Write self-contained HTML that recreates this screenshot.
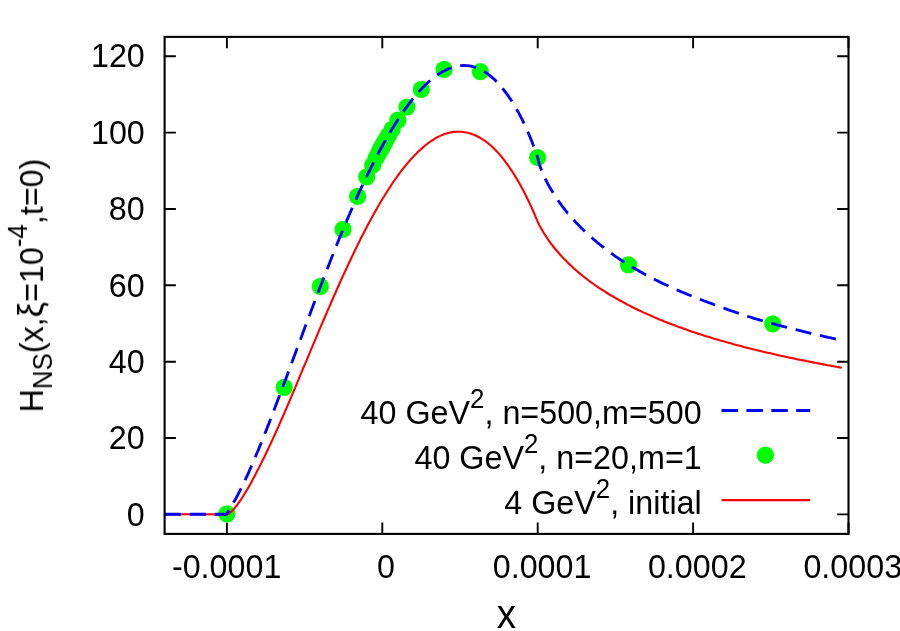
<!DOCTYPE html>
<html><head><meta charset="utf-8"><title>plot</title>
<style>
html,body{margin:0;padding:0;background:#fff;overflow:hidden;}
svg{display:block;}
text{font-family:"Liberation Sans",sans-serif;font-size:33.0px;fill:#000;}
#txt{opacity:0.999}
</style></head><body>
<svg width="900" height="631" viewBox="0 0 900 631">
<rect width="900" height="631" fill="#fff"/>
<path d="M164.6 514.4h11.3 M848.5 514.4h-11.3 M164.6 438.0h11.3 M848.5 438.0h-11.3 M164.6 361.7h11.3 M848.5 361.7h-11.3 M164.6 285.3h11.3 M848.5 285.3h-11.3 M164.6 209.0h11.3 M848.5 209.0h-11.3 M164.6 132.6h11.3 M848.5 132.6h-11.3 M164.6 56.2h11.3 M848.5 56.2h-11.3 M226.9 533.9v-11.3 M226.9 36.9v11.3 M382.3 533.9v-11.3 M382.3 36.9v11.3 M537.7 533.9v-11.3 M537.7 36.9v11.3 M693.1 533.9v-11.3 M693.1 36.9v11.3 M848.5 533.9v-11.3 M848.5 36.9v11.3" stroke="#000" stroke-width="1.9" fill="none"/>
<g fill="#00ff00">
<circle cx="537.6" cy="157.5" r="8.6"/>
<circle cx="226.9" cy="513.8" r="8.6"/>
<circle cx="480.4" cy="71.6" r="8.6"/>
<circle cx="284.2" cy="387.3" r="8.6"/>
<circle cx="444.1" cy="69.4" r="8.6"/>
<circle cx="320.3" cy="286.4" r="8.6"/>
<circle cx="421.3" cy="89.4" r="8.6"/>
<circle cx="343.0" cy="229.3" r="8.6"/>
<circle cx="406.9" cy="107.0" r="8.6"/>
<circle cx="357.6" cy="196.3" r="8.6"/>
<circle cx="397.8" cy="120.2" r="8.6"/>
<circle cx="366.7" cy="176.8" r="8.6"/>
<circle cx="392.1" cy="129.3" r="8.6"/>
<circle cx="372.7" cy="165.2" r="8.6"/>
<circle cx="388.5" cy="135.4" r="8.6"/>
<circle cx="376.1" cy="158.0" r="8.6"/>
<circle cx="386.2" cy="139.4" r="8.6"/>
<circle cx="378.4" cy="153.6" r="8.6"/>
<circle cx="384.8" cy="141.9" r="8.6"/>
<circle cx="379.8" cy="150.9" r="8.6"/>
<circle cx="383.9" cy="143.5" r="8.6"/>
<circle cx="380.7" cy="149.2" r="8.6"/>
<circle cx="383.3" cy="144.6" r="8.6"/>
<circle cx="381.3" cy="148.2" r="8.6"/>
<circle cx="382.9" cy="145.2" r="8.6"/>
<circle cx="381.7" cy="147.5" r="8.6"/>
<circle cx="382.7" cy="145.6" r="8.6"/>
<circle cx="381.9" cy="147.1" r="8.6"/>
<circle cx="628.5" cy="264.9" r="8.6"/>
<circle cx="772.7" cy="323.8" r="8.6"/>
<circle cx="765.4" cy="455.2" r="8.6"/>
</g>
<path d="M164.6 514.2 L226.9 514.4 L228.5 513.8 L230.0 512.7 L231.6 511.3 L233.1 509.8 L234.7 508.0 L236.2 506.1 L237.8 504.1 L239.3 501.9 L240.9 499.7 L242.4 497.3 L244.0 494.8 L245.5 492.3 L247.1 489.7 L248.7 487.0 L250.2 484.2 L251.8 481.4 L253.3 478.5 L254.9 475.6 L256.4 472.6 L258.0 469.6 L259.5 466.6 L261.1 463.5 L262.6 460.3 L264.2 457.2 L265.8 453.9 L267.3 450.7 L268.9 447.4 L270.4 444.1 L272.0 440.8 L273.5 437.4 L275.1 434.0 L276.6 430.5 L278.2 427.1 L279.7 423.6 L281.3 420.0 L282.8 416.5 L284.4 412.9 L286.0 409.3 L287.5 405.7 L289.1 402.0 L290.6 398.4 L292.2 394.7 L293.7 391.0 L295.3 387.3 L296.8 383.6 L298.4 379.9 L299.9 376.1 L301.5 372.4 L303.0 368.7 L304.6 365.0 L306.2 361.3 L307.7 357.6 L309.3 353.9 L310.8 350.1 L312.4 346.4 L313.9 342.8 L315.5 339.1 L317.0 335.4 L318.6 331.7 L320.1 328.1 L321.7 324.4 L323.2 320.8 L324.8 317.2 L326.4 313.5 L327.9 309.9 L329.5 306.4 L331.0 302.8 L332.6 299.2 L334.1 295.7 L335.7 292.2 L337.2 288.7 L338.8 285.2 L340.3 281.8 L341.9 278.3 L343.4 274.9 L345.0 271.5 L346.6 268.2 L348.1 264.8 L349.7 261.5 L351.2 258.2 L352.8 255.0 L354.3 251.7 L355.9 248.5 L357.4 245.4 L359.0 242.2 L360.5 239.1 L362.1 236.0 L363.7 233.0 L365.2 230.0 L366.8 227.0 L368.3 224.1 L369.9 221.2 L371.4 218.3 L373.0 215.4 L374.5 212.6 L376.1 209.9 L377.6 207.2 L379.2 204.5 L380.7 201.8 L382.3 199.2 L383.9 196.7 L385.4 194.2 L387.0 191.7 L388.5 189.3 L390.1 186.9 L391.6 184.5 L393.2 182.2 L394.7 180.0 L396.3 177.8 L397.8 175.6 L399.4 173.5 L400.9 171.4 L402.5 169.4 L404.1 167.4 L405.6 165.5 L407.2 163.6 L408.7 161.8 L410.3 160.0 L411.8 158.3 L413.4 156.6 L414.9 155.0 L416.5 153.4 L418.0 151.8 L419.6 150.4 L421.2 148.9 L422.7 147.6 L424.3 146.2 L425.8 145.0 L427.4 143.8 L428.9 142.6 L430.5 141.5 L432.0 140.5 L433.6 139.5 L435.1 138.5 L436.7 137.6 L438.2 136.8 L439.8 136.1 L441.4 135.4 L442.9 134.7 L444.5 134.1 L446.0 133.6 L447.6 133.2 L449.1 132.8 L450.7 132.4 L452.2 132.1 L453.8 131.9 L455.3 131.8 L456.9 131.7 L458.4 131.7 L460.0 131.7 L461.6 131.8 L463.1 132.0 L464.7 132.2 L466.2 132.5 L467.8 132.8 L469.3 133.2 L470.9 133.7 L472.4 134.2 L474.0 134.8 L475.5 135.5 L477.1 136.2 L478.6 137.0 L480.2 137.9 L481.8 138.8 L483.3 139.8 L484.9 140.8 L486.4 142.0 L488.0 143.2 L489.5 144.5 L491.1 145.8 L492.6 147.2 L494.2 148.7 L495.7 150.3 L497.3 151.9 L498.9 153.6 L500.4 155.4 L502.0 157.3 L503.5 159.2 L505.1 161.3 L506.6 163.4 L508.2 165.5 L509.7 167.8 L511.3 170.1 L512.8 172.5 L514.4 174.9 L515.9 177.5 L517.5 180.1 L519.1 182.8 L520.6 185.6 L522.2 188.4 L523.7 191.3 L525.3 194.4 L526.8 197.5 L528.4 200.7 L529.9 203.9 L531.5 207.3 L533.0 210.8 L534.6 214.3 L536.1 218.0 L537.7 221.7 L539.7 225.9 L541.8 229.6 L543.8 233.0 L545.9 236.2 L547.9 239.3 L549.9 242.1 L552.0 244.9 L554.0 247.5 L556.1 250.0 L558.1 252.3 L560.2 254.7 L562.2 256.9 L564.2 259.0 L566.3 261.1 L568.3 263.2 L570.4 265.1 L572.4 267.0 L574.4 268.9 L576.5 270.7 L578.5 272.4 L580.6 274.1 L582.6 275.8 L584.6 277.4 L586.7 279.0 L588.7 280.5 L590.8 282.1 L592.8 283.5 L594.8 285.0 L596.9 286.4 L598.9 287.8 L601.0 289.1 L603.0 290.4 L605.1 291.7 L607.1 293.0 L609.1 294.3 L611.2 295.5 L613.2 296.7 L615.3 297.9 L617.3 299.0 L619.3 300.2 L621.4 301.3 L623.4 302.4 L625.5 303.5 L627.5 304.6 L629.5 305.6 L631.6 306.7 L633.6 307.7 L635.7 308.7 L637.7 309.7 L639.8 310.7 L641.8 311.6 L643.8 312.6 L645.9 313.5 L647.9 314.4 L650.0 315.3 L652.0 316.2 L654.0 317.1 L656.1 318.0 L658.1 318.9 L660.2 319.7 L662.2 320.5 L664.2 321.4 L666.3 322.2 L668.3 323.0 L670.4 323.8 L672.4 324.6 L674.5 325.3 L676.5 326.1 L678.5 326.9 L680.6 327.6 L682.6 328.3 L684.7 329.1 L686.7 329.8 L688.7 330.5 L690.8 331.2 L692.8 331.9 L694.9 332.6 L696.9 333.2 L698.9 333.9 L701.0 334.6 L703.0 335.2 L705.1 335.9 L707.1 336.5 L709.1 337.1 L711.2 337.7 L713.2 338.4 L715.3 339.0 L717.3 339.6 L719.4 340.2 L721.4 340.8 L723.4 341.3 L725.5 341.9 L727.5 342.5 L729.6 343.1 L731.6 343.6 L733.6 344.2 L735.7 344.7 L737.7 345.3 L739.8 345.8 L741.8 346.3 L743.8 346.9 L745.9 347.4 L747.9 347.9 L750.0 348.4 L752.0 348.9 L754.1 349.5 L756.1 350.0 L758.1 350.5 L760.2 350.9 L762.2 351.4 L764.3 351.9 L766.3 352.4 L768.3 352.9 L770.4 353.3 L772.4 353.8 L774.5 354.3 L776.5 354.7 L778.5 355.2 L780.6 355.7 L782.6 356.1 L784.7 356.5 L786.7 357.0 L788.8 357.4 L790.8 357.9 L792.8 358.3 L794.9 358.7 L796.9 359.2 L799.0 359.6 L801.0 360.0 L803.0 360.4 L805.1 360.8 L807.1 361.2 L809.2 361.6 L811.2 362.0 L813.2 362.4 L815.3 362.8 L817.3 363.2 L819.4 363.6 L821.4 364.0 L823.4 364.4 L825.5 364.8 L827.5 365.2 L829.6 365.5 L831.6 365.9 L833.7 366.3 L835.7 366.6 L837.7 367.0 L839.8 367.4 L841.8 367.7" fill="none" stroke="#ff0000" stroke-width="2.1" stroke-linejoin="round"/>
<path d="M721.5 500.15H810" stroke="#ff0000" stroke-width="2.1"/>
<path d="M164.6 514.2 L166.2 514.2 L167.8 514.2 L169.4 514.2 L171.0 514.2 L172.6 514.2 L174.2 514.2 L175.8 514.2 L177.4 514.2 L179.0 514.2 L180.6 514.2 L180.8 514.2 M189.8 514.2 L190.2 514.2 L191.8 514.2 L193.4 514.2 L195.0 514.2 L196.5 514.2 L198.1 514.2 L199.7 514.2 L201.3 514.2 L202.9 514.2 L204.5 514.2 L206.0 514.2 M214.9 514.2 L215.7 514.2 L217.3 514.2 L218.9 514.2 L220.5 514.2 L222.1 514.2 L223.7 514.2 L225.3 514.2 L226.9 514.0 L228.5 510.7 L228.8 510.2 M233.5 502.6 L234.7 500.6 L236.2 497.8 L237.8 494.9 L239.3 491.9 L240.9 488.9 L241.1 488.3 M245.1 480.2 L245.5 479.2 L247.1 475.8 L248.7 472.4 L250.2 468.9 L251.7 465.5 M255.3 457.2 L256.4 454.4 L258.0 450.7 L259.5 446.9 L261.1 443.1 L261.4 442.2 M264.8 433.8 L265.8 431.4 L267.3 427.4 L268.9 423.5 L270.4 419.4 L270.7 418.8 M273.9 410.4 L275.1 407.3 L276.6 403.2 L278.2 399.1 L279.7 395.2 M282.8 386.8 L282.8 386.7 L284.4 382.6 L286.0 378.4 L287.5 374.2 L288.5 371.6 M291.6 363.2 L292.2 361.7 L293.7 357.6 L295.3 353.4 L296.8 349.2 L297.3 348.1 M300.4 339.7 L301.5 336.7 L303.0 332.5 L304.6 328.3 L306.0 324.5 M309.2 316.2 L309.3 315.9 L310.8 311.8 L312.4 307.6 L313.9 303.5 L314.9 301.0 M318.1 292.7 L318.6 291.3 L320.1 287.2 L321.7 283.2 L323.2 279.1 L323.9 277.5 M327.1 269.2 L327.9 267.1 L329.5 263.2 L331.0 259.2 L332.6 255.3 L333.0 254.1 M336.3 245.9 L337.2 243.7 L338.8 239.8 L340.3 236.0 L341.9 232.2 L342.5 230.9 M345.9 222.6 L346.6 221.1 L348.1 217.4 L349.7 213.8 L351.2 210.2 L352.3 207.7 M355.9 199.6 L357.4 196.1 L359.0 192.7 L360.5 189.4 L362.1 186.0 L362.6 184.8 M366.4 176.9 L366.8 176.2 L368.3 173.0 L369.9 169.9 L371.4 166.7 L373.0 163.7 L373.6 162.4 M377.7 154.5 L379.2 151.7 L380.7 148.8 L382.3 146.0 L383.9 143.1 L385.4 140.4 L385.4 140.3 M389.9 132.7 L390.1 132.3 L391.6 129.7 L393.2 127.2 L394.7 124.7 L396.3 122.2 L397.8 119.8 L398.4 118.9 M403.4 111.6 L404.1 110.6 L405.6 108.4 L407.2 106.3 L408.7 104.2 L410.3 102.1 L411.8 100.1 L413.0 98.6 M418.7 91.9 L419.6 90.9 L421.2 89.2 L422.7 87.6 L424.3 86.0 L425.8 84.5 L427.4 83.0 L428.9 81.6 L430.2 80.5 M437.2 75.1 L438.2 74.3 L439.8 73.3 L441.4 72.4 L442.9 71.5 L444.5 70.7 L446.0 69.9 L447.6 69.2 L449.1 68.5 L450.7 68.0 L451.5 67.7 M460.1 65.7 L461.6 65.6 L463.1 65.5 L464.7 65.5 L466.2 65.6 L467.8 65.7 L469.3 65.9 L470.9 66.2 L472.4 66.5 L474.0 67.0 L475.5 67.5 L476.1 67.7 M484.0 71.5 L484.9 72.0 L486.4 73.0 L488.0 74.1 L489.5 75.3 L491.1 76.6 L492.6 77.9 L494.2 79.3 L495.7 80.8 L496.6 81.7 M502.5 88.3 L503.5 89.6 L505.1 91.6 L506.6 93.6 L508.2 95.8 L509.7 98.1 L511.3 100.4 L511.9 101.5 M516.6 109.1 L517.5 110.8 L519.1 113.6 L520.6 116.6 L522.2 119.6 L523.7 122.8 L524.0 123.5 M527.7 131.6 L528.4 133.1 L529.9 136.8 L531.5 140.6 L533.0 144.5 L533.8 146.6 M536.8 155.0 L537.7 157.7 L539.7 165.6 L541.6 170.5 M545.2 178.6 L545.7 179.7 L547.7 183.6 L549.7 187.2 L551.7 190.6 L553.1 192.8 M558.0 200.2 L559.7 202.7 L561.7 205.5 L563.7 208.1 L565.7 210.6 L567.7 213.1 L567.8 213.1 M573.6 219.9 L573.7 220.0 L575.7 222.2 L577.7 224.3 L579.7 226.3 L581.7 228.4 L583.7 230.3 L584.9 231.4 M591.5 237.5 L591.8 237.7 L593.8 239.5 L595.8 241.2 L597.8 242.9 L599.8 244.5 L601.8 246.1 L603.8 247.7 L603.9 247.8 M611.0 253.2 L611.8 253.7 L613.8 255.2 L615.8 256.6 L617.8 257.9 L619.8 259.3 L621.8 260.6 L623.8 261.9 L624.4 262.3 M632.0 266.9 L633.8 268.0 L635.8 269.2 L637.8 270.3 L639.8 271.5 L641.8 272.6 L643.8 273.7 L645.8 274.8 L646.1 274.9 M653.9 279.0 L655.8 280.0 L657.8 280.9 L659.8 281.9 L661.8 282.9 L663.8 283.9 L665.8 284.8 L667.8 285.7 L668.5 286.1 M676.7 289.7 L677.8 290.2 L679.8 291.1 L681.8 292.0 L683.8 292.8 L685.8 293.6 L687.8 294.5 L689.8 295.3 L691.6 296.0 M699.9 299.3 L701.9 300.0 L703.9 300.8 L705.9 301.5 L707.9 302.3 L709.9 303.0 L711.9 303.7 L713.9 304.5 L715.1 304.9 M723.5 308.0 L723.9 308.1 L725.9 308.9 L727.9 309.6 L729.9 310.3 L731.9 311.0 L733.9 311.7 L735.9 312.4 L737.9 313.1 L738.8 313.4 M747.3 316.2 L747.9 316.4 L749.9 317.0 L751.9 317.6 L753.9 318.3 L755.9 318.9 L757.9 319.5 L759.9 320.0 L761.9 320.6 L762.8 320.9 M771.3 323.3 L771.9 323.4 L773.9 324.0 L775.9 324.5 L777.9 325.1 L779.9 325.6 L781.9 326.1 L783.9 326.7 L785.9 327.2 L787.0 327.5 M795.6 329.6 L796.0 329.7 L798.0 330.2 L800.0 330.7 L802.0 331.2 L804.0 331.7 L806.0 332.2 L808.0 332.7 L810.0 333.1 L811.3 333.5 M820.0 335.5 L820.0 335.5 L822.0 335.9 L824.0 336.4 L826.0 336.8 L828.0 337.3 L830.0 337.7 L832.0 338.2 L834.0 338.6 L835.8 339.0" fill="none" stroke="#0000ff" stroke-width="2.85" stroke-linejoin="round"/>
<path d="M721.5 410.4H810.2" stroke="#0000ff" stroke-width="3" stroke-dasharray="16.5 8.4"/>
<rect x="164.6" y="36.9" width="683.9" height="497.0" fill="none" stroke="#000" stroke-width="2.1"/>
<g id="txt">
<text transform="translate(144.8 525.6) scale(0.9788 1.0212)" text-anchor="end">0</text>
<text transform="translate(144.8 449.2) scale(0.9788 1.0212)" text-anchor="end">20</text>
<text transform="translate(144.8 372.9) scale(0.9788 1.0212)" text-anchor="end">40</text>
<text transform="translate(144.8 296.5) scale(0.9788 1.0212)" text-anchor="end">60</text>
<text transform="translate(144.8 220.2) scale(0.9788 1.0212)" text-anchor="end">80</text>
<text transform="translate(144.8 143.8) scale(0.9788 1.0212)" text-anchor="end">100</text>
<text transform="translate(144.8 67.4) scale(0.9788 1.0212)" text-anchor="end">120</text>
<text transform="translate(171.9 578.0) scale(0.9788 1.0212)" text-anchor="start">-0.0001</text>
<text transform="translate(377.1 578.0) scale(0.9788 1.0212)" text-anchor="start">0</text>
<text transform="translate(492.7 578.0) scale(0.9788 1.0212)" text-anchor="start">0.0001</text>
<text transform="translate(647.9 578.0) scale(0.9788 1.0212)" text-anchor="start">0.0002</text>
<text transform="translate(803.4 578.0) scale(0.9788 1.0212)" text-anchor="start">0.0003</text>
<text transform="translate(701.7 424.0) scale(0.9788 1.0212)" text-anchor="end">40 GeV<tspan dy="-15.2" style="font-size:26.4px">2</tspan><tspan dy="15.2">, n=500,m=500</tspan></text>
<text transform="translate(701.7 468.8) scale(0.9788 1.0212)" text-anchor="end">40 GeV<tspan dy="-15.2" style="font-size:26.4px">2</tspan><tspan dy="15.2">, n=20,m=1</tspan></text>
<text transform="translate(701.7 513.6) scale(0.9788 1.0212)" text-anchor="end">4 GeV<tspan dy="-15.2" style="font-size:26.4px">2</tspan><tspan dy="15.2">, initial</tspan></text>
<text transform="translate(506.5 627.8) scale(0.9788 1.0212)" text-anchor="middle" style="font-size:39.5px">x</text>
<text transform="translate(42.8 412.4) rotate(-90) scale(0.9788 1.0212)">H<tspan dy="9.3" style="font-size:26.4px">NS</tspan><tspan dy="-9.3">(x,</tspan><tspan style="font-size:35px">ξ</tspan>=10<tspan dy="-15.5" style="font-size:26.4px">-4</tspan><tspan dy="15.5">,t=0)</tspan></text>
</g>
</svg>
</body></html>
